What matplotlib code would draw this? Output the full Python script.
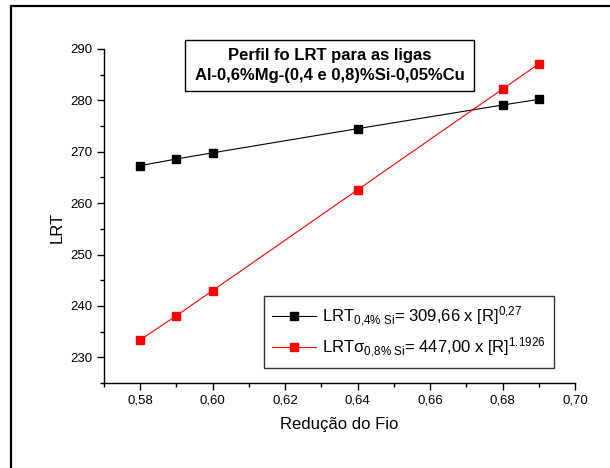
import matplotlib
matplotlib.use("Agg")
import matplotlib.pyplot as plt
from matplotlib.patches import Rectangle
from matplotlib.ticker import MultipleLocator, FormatStrFormatter, FuncFormatter

plt.rcParams['font.family'] = ['Liberation Sans', 'DejaVu Sans']
plt.rcParams['mathtext.fontset'] = 'custom'
plt.rcParams['mathtext.rm'] = 'Liberation Sans'
plt.rcParams['mathtext.it'] = 'Liberation Sans'

reducao = [0.58, 0.59, 0.60, 0.64, 0.68, 0.69]
lrt_04si = [267.3, 268.6, 269.8, 274.5, 279.1, 280.2]
lrt_08si = [233.4, 238.1, 243.0, 262.6, 282.2, 287.1]

label_04 = r'LRT$_{\mathregular{0{,}4\%\ Si}}$= 309,66 x [R]$^{\mathregular{0{,}27}}$'
label_08 = r'LRTσ$_{\mathregular{0{,}8\%\ Si}}$= 447,00 x [R]$^{\mathregular{1.1926}}$'
titulo = "Perfil fo LRT para as ligas\nAl-0,6%Mg-(0,4 e 0,8)%Si-0,05%Cu"

fig = plt.figure(figsize=(6.10, 4.68), dpi=100)
ax = fig.add_axes([0.1705, 0.1816, 0.7721, 0.7137])

# moldura externa
fig.patches.append(Rectangle((11 / 610, -0.2), 1.2, 1.2 - 6 / 468,
                             transform=fig.transFigure, fill=False,
                             edgecolor='black', linewidth=1.6))

ax.plot(reducao, lrt_04si, color='black', linewidth=0.8, marker='s',
        markersize=5.2, label=label_04)
ax.plot(reducao, lrt_08si, color='red', linewidth=0.8, marker='s',
        markersize=5.2, label=label_08)

ax.set_xlim(0.57, 0.70)
ax.set_ylim(225, 290)
ax.xaxis.set_major_locator(MultipleLocator(0.02))
ax.xaxis.set_minor_locator(MultipleLocator(0.01))
ax.yaxis.set_major_locator(MultipleLocator(10))
ax.yaxis.set_minor_locator(MultipleLocator(5))
ax.xaxis.set_major_formatter(FuncFormatter(lambda v, p: f"{v:.2f}".replace('.', ',')))
ax.yaxis.set_major_formatter(FormatStrFormatter('%d'))

for s in ['top', 'right']:
    ax.spines[s].set_visible(False)
for s in ['left', 'bottom']:
    ax.spines[s].set_linewidth(1.0)
ax.tick_params(which='major', direction='out', length=5, width=1.0, labelsize=9.5)
ax.tick_params(which='minor', direction='out', length=3, width=1.0)

ax.set_xlabel("Redução do Fio", fontsize=12, labelpad=7)
ax.set_ylabel("LRT", fontsize=12)
ax.yaxis.set_label_coords(-0.083, 0.467)

# caixa do título
ax.add_patch(Rectangle((0.172, 0.874), 0.6136, 0.1527, transform=ax.transAxes,
                       facecolor='white', edgecolor='black', linewidth=1.0,
                       zorder=3, clip_on=False))
ax.text(0.479, 0.951, titulo, transform=ax.transAxes, ha='center', va='center',
        fontsize=12, fontweight='bold', linespacing=1.45, zorder=4)

leg = ax.legend(loc='lower right', bbox_to_anchor=(0.9554, 0.045), fontsize=12,
                frameon=True, fancybox=False, edgecolor='black',
                handlelength=2.64, handletextpad=0.36, borderpad=0.5,
                labelspacing=0.4, borderaxespad=0)
leg.get_frame().set_linewidth(1.0)

fig.savefig("out.png", dpi=100)
